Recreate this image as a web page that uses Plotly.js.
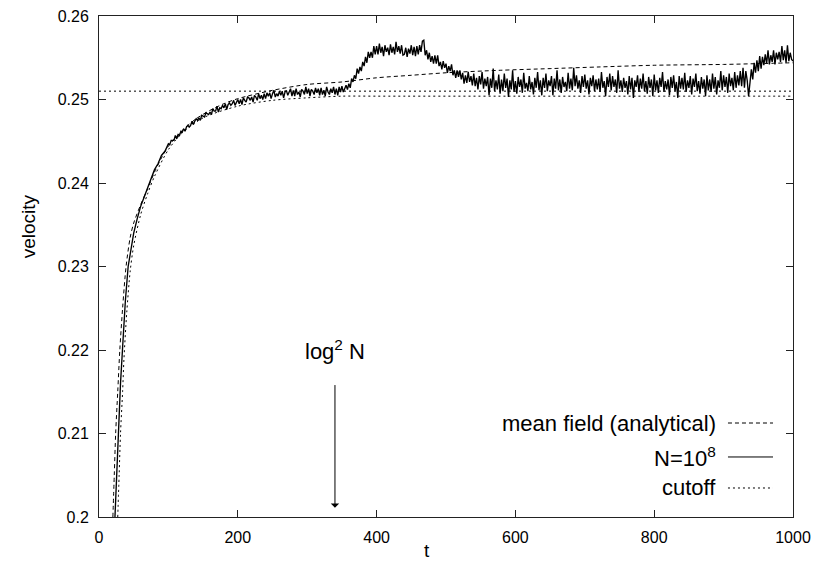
<!DOCTYPE html>
<html>
<head>
<meta charset="utf-8">
<script src="https://cdn.plot.ly/plotly-3.0.1.min.js"></script>
<style>html,body{margin:0;padding:0;background:#fff;}#chart{width:822px;height:563px;}</style>
</head>
<body>
<div id="chart"></div>
<script>
// ---- data ----
const tMean = [20,22,24,27,30,34,39,45,50,60,70,80,90,100,120,140,160,180,200,250,300,350,400,450,500,578,650,722,800,900,952,1000];
const vMean = [0.2000,0.2050,0.2100,0.2150,0.2200,0.2250,0.2300,0.2335,0.2352,0.2374,0.2393,0.2413,0.2430,0.2444,0.2463,0.2477,0.2487,0.2495,0.2501,0.2511,0.2518,0.2521,0.2526,0.2529,0.2532,0.2535,0.2537,0.2539,0.2541,0.2542,0.2543,0.2544];

const tCut = [27,29,31,34,36,40,45,50,60,70,80,100,120,150,200,250,300,350,400,600,800,1000];
const vCut = [0.2000,0.2050,0.2100,0.2150,0.2190,0.2245,0.2295,0.2325,0.2362,0.2387,0.2408,0.2440,0.2460,0.2478,0.2492,0.2499,0.2502,0.2504,0.2504,0.2504,0.2504,0.2504];

const tLevel = [0,1000];
const vLevel = [0.2510,0.2510];

const tSim = [23,25,28,31,34,38,42,46,50,55,60,65,70,75,80,85,90,95,
100,102,104,106,108,110,112,114,116,118,
120,122,124,126,128,130,132,134,136,138,
140,142,144,146,148,150,152,154,156,158,
160,162,164,166,168,170,172,174,176,178,
180,182,184,186,188,190,192,194,196,198,
200,202,204,206,208,210,212,214,216,218,
220,222,224,226,228,230,232,234,236,238,
240,242,244,246,248,250,252,254,256,258,
260,262,264,266,268,270,272,274,276,278,
280,282,284,286,288,290,292,294,296,298,
300,302,304,306,308,310,312,314,316,318,
320,322,324,326,328,330,332,334,336,338,
340,342,344,346,348,350,352,354,356,358,
360,362,364,366,368,370,372,374,376,378,
380,382,384,386,388,390,392,394,396,398,
400,402,404,406,408,410,412,414,416,418,
420,422,424,426,428,430,432,434,436,438,
440,442,444,446,448,450,452,454,456,458,
460,462,464,466,468,470,472,474,476,478,
480,482,484,486,488,490,492,494,496,498,
500,502,504,506,508,510,512,514,516,518,
520,522,524,526,528,530,532,534,536,538,
540,542,544,546,548,550,552,554,556,558,
560,562,564,566,568,570,572,574,576,578,
580,582,584,586,588,590,592,594,596,598,
600,602,604,606,608,610,612,614,616,618,
620,622,624,626,628,630,632,634,636,638,
640,642,644,646,648,650,652,654,656,658,
660,662,664,666,668,670,672,674,676,678,
680,682,684,686,688,690,692,694,696,698,
700,702,704,706,708,710,712,714,716,718,
720,722,724,726,728,730,732,734,736,738,
740,742,744,746,748,750,752,754,756,758,
760,762,764,766,768,770,772,774,776,778,
780,782,784,786,788,790,792,794,796,798,
800,802,804,806,808,810,812,814,816,818,
820,822,824,826,828,830,832,834,836,838,
840,842,844,846,848,850,852,854,856,858,
860,862,864,866,868,870,872,874,876,878,
880,882,884,886,888,890,892,894,896,898,
900,902,904,906,908,910,912,914,916,918,
920,922,924,926,928,930,932,934,936,938,
940,942,944,946,948,950,952,954,956,958,
960,962,964,966,968,970,972,974,976,978,
980,982,984,986,988,990,992,994,996,998,1000];
const vSim = [0.2000,0.2042,0.2102,0.2160,0.2203,0.2259,0.2300,0.2322,0.2340,0.2357,0.2372,0.2383,0.2393,0.2405,0.2416,0.2423,0.2433,0.2438,
0.2447,0.2446,0.2451,0.2451,0.2451,0.2457,0.2453,0.2458,0.2457,0.2462,
0.2461,0.2465,0.2462,0.2467,0.2469,0.2467,0.2469,0.2474,0.2470,0.2474,
0.2477,0.2475,0.2478,0.2475,0.2481,0.2480,0.2479,0.2484,0.2483,0.2482,
0.2485,0.2482,0.2489,0.2486,0.2486,0.2492,0.2485,0.2490,0.2489,0.2493,
0.2490,0.2495,0.2488,0.2494,0.2496,0.2493,0.2495,0.2499,0.2493,0.2497,
0.2500,0.2495,0.2500,0.2494,0.2502,0.2499,0.2497,0.2503,0.2502,0.2499,
0.2503,0.2497,0.2505,0.2503,0.2499,0.2507,0.2501,0.2505,0.2500,0.2507,
0.2501,0.2508,0.2504,0.2508,0.2501,0.2507,0.2511,0.2503,0.2507,0.2504,
0.2510,0.2505,0.2510,0.2502,0.2509,0.2511,0.2505,0.2509,0.2513,0.2504,
0.2511,0.2504,0.2513,0.2506,0.2509,0.2503,0.2512,0.2510,0.2506,0.2515,
0.2507,0.2513,0.2504,0.2512,0.2510,0.2506,0.2514,0.2508,0.2513,0.2505,
0.2514,0.2506,0.2511,0.2504,0.2515,0.2509,0.2506,0.2513,0.2508,0.2515,
0.2506,0.2513,0.2505,0.2515,0.2509,0.2516,0.2509,0.2513,0.2517,0.2512,
0.2519,0.2514,0.2525,0.2521,0.2529,0.2525,0.2537,0.2531,0.2539,0.2534,
0.2545,0.2540,0.2551,0.2544,0.2557,0.2550,0.2557,0.2550,0.2564,0.2554,
0.2564,0.2554,0.2567,0.2556,0.2563,0.2552,0.2565,0.2557,0.2562,0.2553,
0.2566,0.2556,0.2563,0.2554,0.2569,0.2557,0.2564,0.2555,0.2565,0.2553,
0.2554,0.2562,0.2551,0.2561,0.2555,0.2565,0.2553,0.2563,0.2552,0.2564,
0.2554,0.2565,0.2557,0.2570,0.2571,0.2553,0.2559,0.2548,0.2556,0.2545,
0.2552,0.2543,0.2553,0.2543,0.2553,0.2540,0.2545,0.2536,0.2546,0.2538,
0.2543,0.2532,0.2540,0.2534,0.2542,0.2529,0.2535,0.2526,0.2535,0.2527,
0.2535,0.2524,0.2532,0.2519,0.2529,0.2520,0.2533,0.2521,0.2528,0.2517,
0.2531,0.2516,0.2526,0.2512,0.2528,0.2518,0.2533,0.2513,0.2525,0.2516,
0.2527,0.2505,0.2525,0.2514,0.2537,0.2510,0.2523,0.2512,0.2530,0.2507,
0.2524,0.2510,0.2531,0.2514,0.2525,0.2503,0.2523,0.2512,0.2535,0.2509,
0.2522,0.2507,0.2527,0.2515,0.2524,0.2508,0.2532,0.2513,0.2520,0.2510,
0.2528,0.2512,0.2521,0.2506,0.2526,0.2514,0.2533,0.2511,0.2523,0.2505,
0.2526,0.2514,0.2531,0.2510,0.2523,0.2516,0.2528,0.2505,0.2525,0.2513,
0.2535,0.2511,0.2524,0.2508,0.2527,0.2515,0.2521,0.2510,0.2532,0.2513,
0.2525,0.2511,0.2538,0.2516,0.2529,0.2513,0.2523,0.2508,0.2528,0.2515,
0.2530,0.2513,0.2523,0.2506,0.2526,0.2516,0.2529,0.2510,0.2524,0.2512,
0.2525,0.2509,0.2533,0.2514,0.2522,0.2504,0.2527,0.2515,0.2531,0.2511,
0.2528,0.2515,0.2524,0.2508,0.2535,0.2513,0.2523,0.2509,0.2526,0.2514,
0.2522,0.2506,0.2528,0.2512,0.2526,0.2502,0.2523,0.2515,0.2529,0.2509,
0.2525,0.2513,0.2531,0.2510,0.2522,0.2507,0.2527,0.2514,0.2524,0.2504,
0.2530,0.2511,0.2523,0.2508,0.2526,0.2515,0.2533,0.2509,0.2522,0.2512,
0.2524,0.2505,0.2527,0.2514,0.2529,0.2510,0.2521,0.2502,0.2528,0.2513,
0.2526,0.2512,0.2532,0.2509,0.2523,0.2514,0.2528,0.2506,0.2525,0.2515,
0.2531,0.2510,0.2522,0.2507,0.2527,0.2513,0.2524,0.2504,0.2529,0.2511,
0.2524,0.2509,0.2531,0.2513,0.2527,0.2506,0.2523,0.2514,0.2534,0.2511,
0.2529,0.2515,0.2527,0.2508,0.2531,0.2516,0.2526,0.2511,0.2533,0.2514,
0.2529,0.2517,0.2534,0.2516,0.2538,0.2514,0.2534,0.2523,0.2504,0.2520,
0.2536,0.2524,0.2544,0.2532,0.2547,0.2534,0.2552,0.2537,0.2551,0.2541,
0.2554,0.2543,0.2559,0.2542,0.2553,0.2545,0.2559,0.2542,0.2556,0.2548,
0.2557,0.2545,0.2564,0.2547,0.2559,0.2544,0.2565,0.2546,0.2556,0.2548,0.2546];

const xTicks = [0,200,400,600,800,1000];
const yTicks = [0.2,0.21,0.22,0.23,0.24,0.25,0.26];
const legendNames = ['mean field (analytical)', 'N=10<sup>8</sup>', 'cutoff'];
const arrowLabel = 'log<sup>2</sup> N';
const arrowT = 340;

// ---- drawing ----
const FONT = '"Liberation Sans", Arial, Helvetica, sans-serif';
const DASH = '4px,3px';
const DOT = '2px,3px';

const traces = [
  {x: tLevel, y: vLevel, mode: 'lines', line: {color: '#000', width: 1, dash: DOT}, showlegend: false, hoverinfo: 'skip'},
  {x: tCut, y: vCut, mode: 'lines', line: {color: '#000', width: 1, dash: DOT, shape: 'spline', smoothing: 0.8}, showlegend: false},
  {x: tMean, y: vMean, mode: 'lines', line: {color: '#000', width: 1, dash: DASH, shape: 'spline', smoothing: 0.8}, showlegend: false},
  {x: tSim, y: vSim, mode: 'lines', line: {color: '#000', width: 1.35}, showlegend: false}
];

// gnuplot-style key: text on the left, line sample on the right
const keyRowsY = [0.1876, 0.1198, 0.0579];
const keyDash = [DASH, 'solid', DOT];
const shapes = keyRowsY.map((yy, i) => ({
  type: 'line', xref: 'paper', yref: 'paper', x0: 0.9063, x1: 0.9712, y0: yy, y1: yy,
  line: {color: '#000', width: 1, dash: keyDash[i]}
}));
const annotations = keyRowsY.map((yy, i) => ({
  xref: 'paper', yref: 'paper', x: 0.892, y: yy, xanchor: 'right', yanchor: 'middle',
  text: legendNames[i], showarrow: false, font: {family: FONT, size: 22, color: '#000'}
}));
annotations.push({
  x: arrowT, y: 0.2011, ax: arrowT, ay: 0.2170, axref: 'x', ayref: 'y', xref: 'x', yref: 'y',
  text: ' ', showarrow: true, arrowhead: 1, arrowsize: 1.4, arrowwidth: 1, arrowcolor: '#000'
});
annotations.push({
  x: arrowT, y: 0.2200, xref: 'x', yref: 'y', xanchor: 'center', yanchor: 'middle',
  text: arrowLabel, showarrow: false, font: {family: FONT, size: 22, color: '#000'}
});
annotations.push({
  xref: 'paper', yref: 'paper', x: 0.4726, y: -0.066, xanchor: 'center', yanchor: 'middle',
  text: 't', showarrow: false, font: {family: FONT, size: 19, color: '#000'}
});
annotations.push({
  xref: 'paper', yref: 'paper', x: -0.1024, y: 0.58, xanchor: 'center', yanchor: 'middle',
  text: 'velocity', textangle: -90, showarrow: false, font: {family: FONT, size: 19, color: '#000'}
});

const axisCommon = {
  showline: true, linecolor: '#222', linewidth: 1, mirror: 'ticks',
  ticks: 'inside', ticklen: 7, tickwidth: 1, tickcolor: '#222',
  showgrid: false, zeroline: false, tickfont: {family: FONT, size: 16, color: '#000'}
};

const layout = {
  width: 822, height: 563,
  margin: {l: 99, r: 29, t: 16, b: 46},
  paper_bgcolor: '#fff', plot_bgcolor: '#fff',
  showlegend: false,
  xaxis: Object.assign({}, axisCommon, {range: [0, 1000], tickvals: xTicks, ticktext: xTicks.map(String), ticklabelstandoff: 6}),
  yaxis: Object.assign({}, axisCommon, {range: [0.2, 0.26], tickvals: yTicks, ticktext: yTicks.map(String), ticklabelstandoff: 6}),
  shapes: shapes,
  annotations: annotations
};

Plotly.newPlot('chart', traces, layout, {displayModeBar: false, staticPlot: true});
</script>
</body>
</html>
